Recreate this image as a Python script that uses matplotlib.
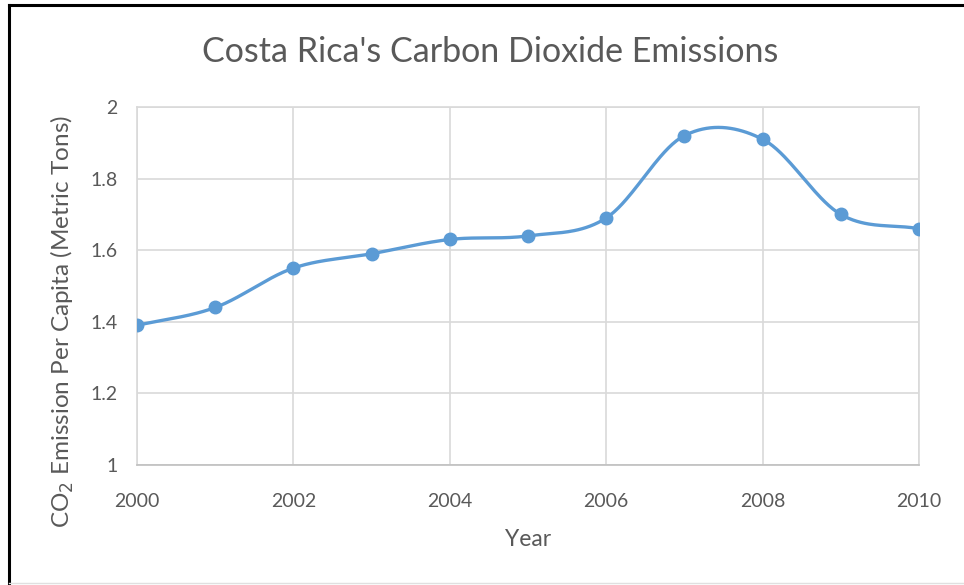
import numpy as np
import matplotlib
matplotlib.use("Agg")
import matplotlib.pyplot as plt
from matplotlib.lines import Line2D

plt.rcParams['font.family'] = ['Lato', 'DejaVu Sans']

years = [2000, 2001, 2002, 2003, 2004, 2005, 2006, 2007, 2008, 2009, 2010]
emissions = [1.39, 1.44, 1.55, 1.59, 1.63, 1.64, 1.69, 1.92, 1.91, 1.70, 1.66]
x_ticks = [2000, 2002, 2004, 2006, 2008, 2010]
y_ticks = [1, 1.2, 1.4, 1.6, 1.8, 2]

TEXT = '#595959'
GRID = '#d9d9d9'
LINE = '#5b9bd5'


def smooth_curve(x, y, n=40):
    """Catmull-Rom spline through the data points (spreadsheet-style smoothed line)."""
    x = np.asarray(x, float)
    y = np.asarray(y, float)
    px = np.concatenate([[2 * x[0] - x[1]], x, [2 * x[-1] - x[-2]]])
    py = np.concatenate([[2 * y[0] - y[1]], y, [2 * y[-1] - y[-2]]])
    xs, ys = [], []
    t = np.linspace(0, 1, n)
    for i in range(1, len(px) - 2):
        for arr, out in ((px, xs), (py, ys)):
            p0, p1, p2, p3 = arr[i - 1], arr[i], arr[i + 1], arr[i + 2]
            out.extend(0.5 * ((2 * p1) + (-p0 + p2) * t
                              + (2 * p0 - 5 * p1 + 4 * p2 - p3) * t ** 2
                              + (-p0 + 3 * p1 - 3 * p2 + p3) * t ** 3))
    return np.array(xs), np.array(ys)


fig = plt.figure(figsize=(9.64, 5.85), dpi=100)
ax = fig.add_axes([0.1421, 0.2051, 0.9533 - 0.1421, 0.8171 - 0.2051])

sx, sy = smooth_curve(years, emissions)
ax.plot(sx, sy, color=LINE, lw=2.4, solid_capstyle='round', zorder=3)
ax.plot(years, emissions, 'o', color=LINE, ms=9, zorder=4)

ax.set_xlim(2000, 2010)
ax.set_ylim(1, 2)
ax.set_xticks(x_ticks)
ax.set_yticks(y_ticks)
ax.set_yticklabels([f'{v:g}' for v in y_ticks])
ax.grid(True, color=GRID, lw=1.2)
ax.set_axisbelow(True)
for side in ['left', 'right', 'top']:
    ax.spines[side].set_color(GRID)
    ax.spines[side].set_linewidth(1.2)
ax.spines['bottom'].set_color('#bfbfbf')
ax.spines['bottom'].set_linewidth(1.2)
ax.tick_params(length=0, labelsize=14, colors=TEXT)
ax.tick_params(axis='y', pad=14)
ax.tick_params(axis='x', pad=20)

fig.text(490 / 964, 1 - 52 / 585, "Costa Rica's Carbon Dioxide Emissions",
         fontsize=24.5, color=TEXT, ha='center', va='center')
ax.set_xlabel('Year', fontsize=16.5, color=TEXT, labelpad=14)
fig.text(62 / 964, 1 - 321 / 585, 'CO$_2$ Emission Per Capita (Metric Tons)',
         fontsize=17.5, color=TEXT, rotation=90, ha='center', va='center')

# outer frame lines
fig.add_artist(Line2D([0.0097, 0.0097], [0.0, 0.991], transform=fig.transFigure, color='black', lw=2.2))
fig.add_artist(Line2D([0.0097, 1.0], [0.991, 0.991], transform=fig.transFigure, color='black', lw=2.2))
fig.add_artist(Line2D([0.0097, 1.0], [0.004, 0.004], transform=fig.transFigure, color='#e0e0e0', lw=1))

fig.savefig('out.png', dpi=100)
